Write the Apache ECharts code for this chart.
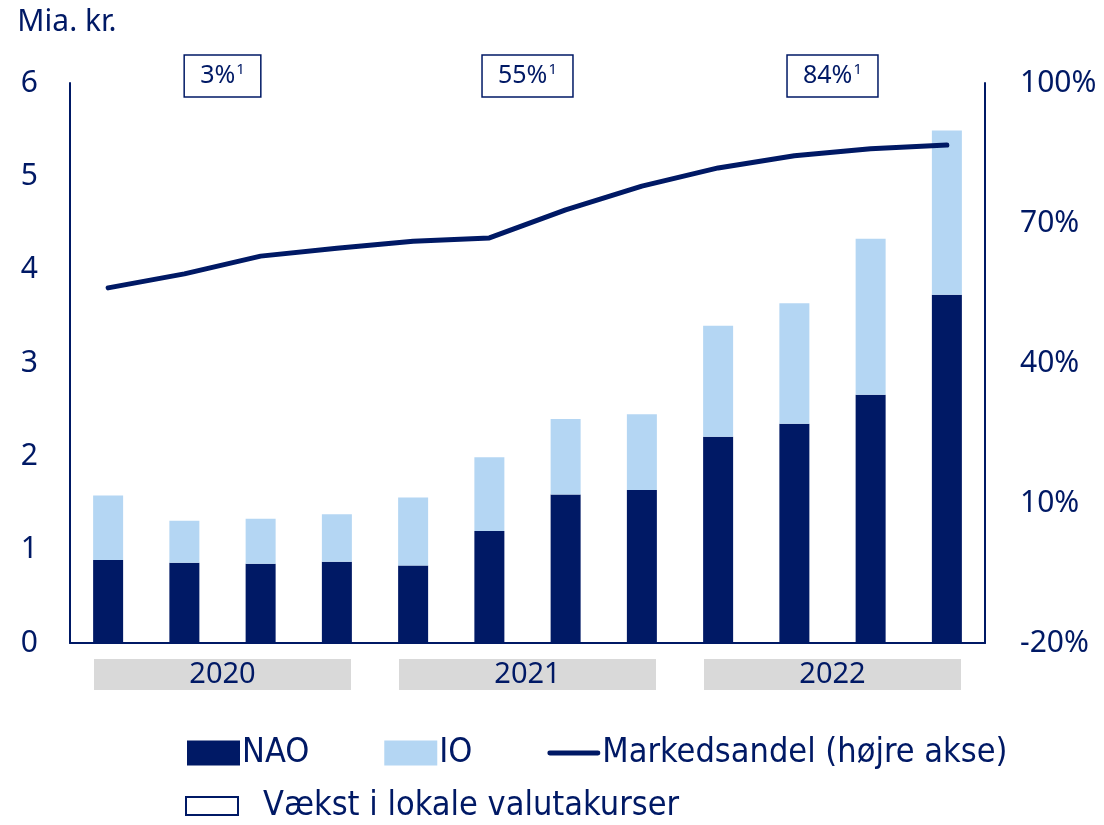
<!DOCTYPE html>
<html>
<head>
<meta charset="utf-8">
<script src="https://cdn.jsdelivr.net/npm/echarts@6/dist/echarts.min.js"></script>
<style>
  html, body { margin: 0; padding: 0; background: #fff; }
  #chart { width: 1104px; height: 825px; }
</style>
</head>
<body>
<div id="chart"></div>
<script>
// kvartaler 2020-2022
const quarters = ["K1 20", "K2 20", "K3 20", "K4 20", "K1 21", "K2 21", "K3 21", "K4 21", "K1 22", "K2 22", "K3 22", "K4 22"];
const years = ["2020", "2021", "2022"];
const growth = ["3%", "55%", "84%"]; // vækst i lokale valutakurser
const naoData = [0.89, 0.86, 0.85, 0.87, 0.83, 1.2, 1.59, 1.64, 2.21, 2.35, 2.66, 3.73];
const ioData = [0.69, 0.45, 0.48, 0.51, 0.73, 0.79, 0.81, 0.81, 1.19, 1.29, 1.67, 1.76];
const shareData = [56.1, 59.1, 62.9, 64.6, 66.1, 66.8, 72.8, 77.9, 81.8, 84.4, 85.9, 86.7];

const navy = "#001965";
const lightBlue = "#b4d6f3";
const font = "Noto Sans";
const narrow = "'Liberation Sans Narrow', 'DejaVu Sans Condensed', sans-serif";

const chart = echarts.init(document.getElementById("chart"));

chart.setOption({
  animation: false,
  grid: { left: 70, right: 119, top: 83, bottom: 182 },
  legend: [
    {
      left: 187,
      top: 734,
      padding: 0,
      itemWidth: 53,
      itemHeight: 25,
      itemGap: 75,
      textStyle: { color: navy, fontFamily: narrow, fontSize: 34, lineHeight: 38, padding: [0, 0, 0, -3] },
      data: [
        { name: "NAO", icon: "rect" },
        { name: "IO", icon: "rect" },
        {
          name: "Markedsandel (højre akse)",
          icon: "path://M2.5,0 H52.5 A2.5,2.5 0 0 1 52.5,5 H2.5 A2.5,2.5 0 0 1 2.5,0 Z",
          itemStyle: { color: navy },
        },
      ],
    },
    {
      left: 185,
      top: 787,
      padding: 0,
      itemWidth: 52,
      itemHeight: 18,
      textStyle: { color: navy, fontFamily: narrow, fontSize: 34, lineHeight: 38, padding: [0, 0, 0, 20] },
      data: [
        {
          name: "Vækst i lokale valutakurser",
          icon: "rect",
          itemStyle: { color: "#fff", borderColor: navy, borderWidth: 2 },
        },
      ],
    },
  ],
  xAxis: [
    {
      type: "category",
      data: quarters,
      axisLine: { lineStyle: { color: navy, width: 2 } },
      axisTick: { show: false },
      axisLabel: { show: false },
    },
    {
      type: "category",
      data: years,
      position: "bottom",
      axisLine: { show: false },
      axisTick: { show: false },
      axisLabel: {
        margin: 16,
        color: navy,
        fontFamily: font,
        fontSize: 29,
        backgroundColor: "#d9d9d9",
        width: 257,
        height: 31,
        lineHeight: 31,
        align: "center",
      },
    },
    {
      type: "category",
      data: growth,
      position: "top",
      offset: -14,
      axisLine: { show: false },
      axisTick: { show: false },
      axisLabel: {
        margin: 0,
        borderColor: navy,
        borderWidth: 1.5,
        padding: [6, 16, 6, 16],
        formatter: (v) => `{a|${v}}{s|1}`,
        rich: {
          a: { color: navy, fontFamily: font, fontSize: 25, lineHeight: 30 },
          s: { color: navy, fontFamily: font, fontSize: 15, padding: [0, 0, 12, 1] },
        },
      },
    },
  ],
  yAxis: [
    {
      type: "value",
      min: 0,
      max: 6,
      interval: 1,
      name: "Mia. kr.",
      nameGap: 46,
      nameTextStyle: { color: navy, fontFamily: font, fontSize: 30, padding: [0, 0, 0, -6] },
      axisLine: { show: true, lineStyle: { color: navy, width: 2 } },
      axisTick: { show: false },
      splitLine: { show: false },
      axisLabel: { color: navy, fontFamily: font, fontSize: 30, margin: 32 },
    },
    {
      type: "value",
      min: -20,
      max: 100,
      interval: 30,
      position: "right",
      axisLine: { show: true, lineStyle: { color: navy, width: 2 } },
      axisTick: { show: false },
      splitLine: { show: false },
      axisLabel: {
        color: navy,
        fontFamily: font,
        fontSize: 30,
        margin: 35,
        formatter: (v) => v + "%",
      },
    },
  ],
  series: [
    {
      name: "NAO",
      type: "bar",
      stack: "salg",
      barWidth: 30,
      itemStyle: { color: navy },
      data: naoData,
    },
    {
      name: "IO",
      type: "bar",
      stack: "salg",
      barWidth: 30,
      itemStyle: { color: lightBlue },
      data: ioData,
    },
    {
      name: "Markedsandel (højre akse)",
      type: "line",
      yAxisIndex: 1,
      symbol: "none",
      lineStyle: { color: navy, width: 5, cap: "round" },
      itemStyle: { color: navy },
      data: shareData.map((v, i) =>
        i === shareData.length - 1
          ? {
              value: v,
              label: {
                show: true,
                position: "top",
                distance: 16,
                color: navy,
                fontFamily: font,
                fontSize: 26,
                formatter: (p) => Math.round(p.value) + "%",
              },
            }
          : v
      ),
    },
    {
      name: "Vækst i lokale valutakurser",
      type: "line",
      data: [],
    },
  ],
});
</script>
</body>
</html>
